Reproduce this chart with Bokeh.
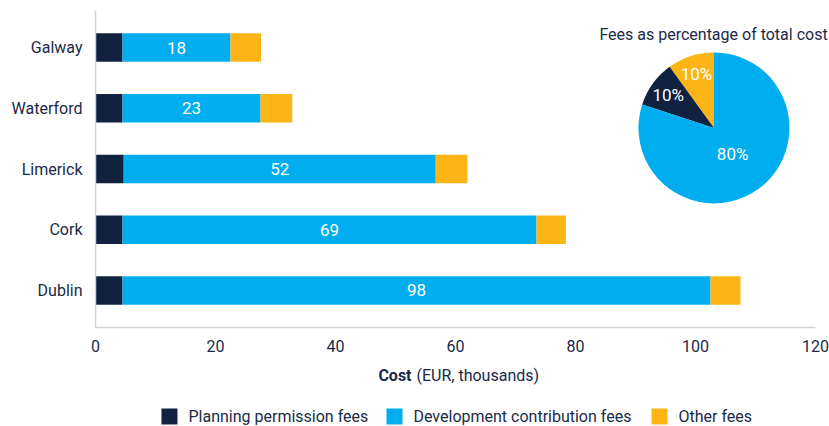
import math
from bokeh.plotting import figure
from bokeh.layouts import column
from bokeh.models import (FactorRange, Range1d, Label, ColumnDataSource,
                          FixedTicker)
from bokeh.core.properties import value
from bokeh.embed import file_html
from bokeh.resources import INLINE

# ---------------- data ----------------
cities = ["Galway", "Waterford", "Limerick", "Cork", "Dublin"]
planning = [4.5, 4.5, 4.7, 4.5, 4.5]
development = [18, 23, 52, 69, 98]
other = [5.1, 5.3, 5.3, 4.9, 5.0]
series_keys = ["planning", "development", "other"]
series_names = ["Planning permission fees", "Development contribution fees", "Other fees"]

# pie: shares listed in anticlockwise order starting at 12 o'clock
pie_keys = ["other", "planning", "development"]
pie_shares = [10, 10, 80]
pie_text = ["10%", "10%", "80%"]

x_ticks = [0, 20, 40, 60, 80, 100, 120]
x_title_bold = "Cost"
x_title_rest = "(EUR, thousands)"
pie_title = "Fees as percentage of total cost"

# ---------------- style ----------------
NAVY = "#10223f"
BLUE = "#00aeef"
GOLD = "#fcb515"
TEXT = "#1b2a47"
AXIS = "#d3d3d3"
FONT = "Roboto"
FS = "16px"
FS_IN = "17px"
colors = {"planning": NAVY, "development": BLUE, "other": GOLD}

src = ColumnDataSource(dict(
    city=cities, planning=planning, development=development, other=other,
    label_x=[p_ + d / 2 for p_, d in zip(planning, development)],
    label=[str(d) for d in development],
))

xr = Range1d(0, 122.33)

# ---------------- main chart ----------------
p = figure(width=829, height=363,
           y_range=FactorRange(factors=cities[::-1], range_padding=0.11,
                               range_padding_units="absolute"),
           x_range=xr,
           output_backend="svg", toolbar_location=None,
           min_border_left=95, min_border_right=0,
           min_border_top=10, min_border_bottom=36)
p.outline_line_color = None
p.grid.visible = False
p.background_fill_color = "white"
p.border_fill_color = "white"

for ax in (p.xaxis[0], p.yaxis[0]):
    ax.axis_line_color = AXIS
    ax.axis_line_width = 1.5
    ax.major_tick_line_color = None
    ax.minor_tick_line_color = None
    ax.major_tick_out = 0
    ax.major_tick_in = 0
    ax.minor_tick_out = 0
    ax.major_label_text_font = FONT
    ax.major_label_text_font_size = FS
    ax.major_label_text_color = TEXT
p.xaxis.ticker = FixedTicker(ticks=x_ticks)
p.xaxis.bounds = (x_ticks[0], x_ticks[-1])
p.xaxis.major_label_standoff = 12
p.yaxis.major_label_standoff = 13

renderers = p.hbar_stack(series_keys, y="city", height=0.47,
                         color=[colors[k] for k in series_keys],
                         line_color=None, source=src)

p.text(x="label_x", y="city", text="label", source=src,
       text_color="white", text_font=value(FONT), text_font_size=FS_IN,
       text_align="center", text_baseline="middle")

# pie chart
PIE_CX, PIE_CY, PIE_R = 103.08, 3.177, 75.5
total = sum(pie_shares)
starts, ends, acc = [], [], 90.0
for s in pie_shares:
    starts.append(math.radians(acc))
    acc += 360.0 * s / total
    ends.append(math.radians(acc))
pie_src = ColumnDataSource(dict(start=starts, end=ends,
                                color=[colors[k] for k in pie_keys]))
p.wedge(x=PIE_CX, y=PIE_CY, radius=PIE_R, radius_units="screen",
        start_angle="start", end_angle="end", color="color",
        line_color=None, source=pie_src)

for s, e, share, t in zip(starts, ends, pie_shares, pie_text):
    mid = (s + e) / 2
    rr = PIE_R * (0.42 if share > 50 else 0.75)
    p.add_layout(Label(x=PIE_CX, y=PIE_CY, x_offset=rr * math.cos(mid),
                       y_offset=rr * math.sin(mid), text=t, text_font=FONT,
                       text_font_size=FS_IN, text_color="white",
                       text_align="center", text_baseline="middle"))

p.add_layout(Label(x=103.0, y=4.716, text=pie_title, text_font=FONT,
                   text_font_size=FS, text_color=TEXT,
                   text_align="center", text_baseline="middle"))

# ---------------- bottom strip: axis title + legend ----------------
q = figure(width=829, height=63, x_range=xr, y_range=Range1d(63, 0),
           output_backend="svg", toolbar_location=None,
           min_border_left=95, min_border_right=0,
           min_border_top=0, min_border_bottom=0,
           x_axis_type=None, y_axis_type=None)
q.outline_line_color = None
q.grid.visible = False

q.text(x=[52.67], y=[12], text=[x_title_bold], text_font=value(FONT),
       text_font_size=FS, text_font_style="bold", text_color=TEXT,
       text_align="right", text_baseline="middle")
q.text(x=[52.67], y=[12], x_offset=5, text=[x_title_rest], text_font=value(FONT),
       text_font_size=FS, text_color=TEXT,
       text_align="left", text_baseline="middle")

key_x = [12.33, 49.83, 94.0]
q.rect(x=key_x, y=[53] * 3, width=16, height=16,
       width_units="screen", height_units="screen",
       color=[colors[k] for k in series_keys], line_color=None)
q.text(x=key_x, y=[53] * 3, x_offset=19, text=series_names,
       text_font=value(FONT), text_font_size=FS, text_color=TEXT,
       text_align="left", text_baseline="middle")

open("out.html", "w").write(file_html(column(p, q, spacing=0), INLINE))
